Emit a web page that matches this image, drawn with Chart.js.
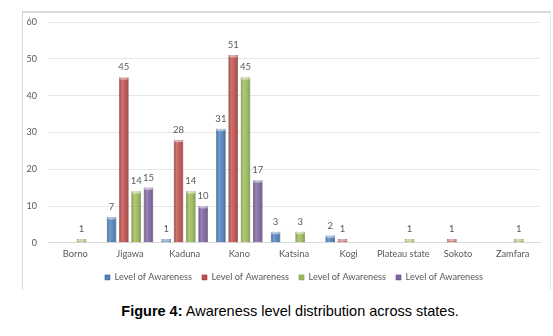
<!DOCTYPE html>
<html>
<head>
<meta charset="utf-8">
<script src="https://cdn.jsdelivr.net/npm/chart.js@4"></script>
<style>
  html, body { margin: 0; padding: 0; background: #fff; width: 553px; height: 336px; overflow: hidden; }
  #frame { position: absolute; left: 22px; top: 11px; width: 529px; height: 279px; border-left: 1px solid #d9d9d9; border-top: 2px solid #d9d9d9; border-right: 1px solid #e4e4e4; box-sizing: border-box; }
  #wrap { position: absolute; left: 0; top: 0; width: 553px; height: 292px; }
  #caption { position: absolute; left: 0; width: 580px; top: 303px; text-align: center; font-family: "Liberation Sans", Arial, sans-serif; font-size: 14.5px; color: #000; }
</style>
</head>
<body>
<div id="frame"></div>
<div id="wrap"><canvas id="c" width="553" height="292"></canvas></div>
<div id="caption"><b>Figure 4:</b> Awareness level distribution across states.</div>
<script>
const categories = ["Borno", "Jigawa", "Kaduna", "Kano", "Katsina", "Kogi", "Plateau state", "Sokoto", "Zamfara"];
const series1 = [0, 7, 1, 31, 3, 2, 0, 0, 0];
const series2 = [0, 45, 28, 51, 0, 1, 0, 1, 0];
const series3 = [1, 14, 14, 45, 3, 0, 1, 0, 1];
const series4 = [0, 15, 10, 17, 0, 0, 0, 0, 0];
const seriesNames = ["Level of Awareness", "Level of Awareness", "Level of Awareness", "Level of Awareness"];
const yTicks = [0, 10, 20, 30, 40, 50, 60];

const colors = ["#4F81BD", "#C0504D", "#9BBB59", "#8064A2"];
const borders = ["#3b679c", "#9c3b38", "#7a9a3e", "#644b85"];
const FONT = "Lato, 'Liberation Sans', sans-serif";

const shadePlugin = {
  id: 'shade',
  afterDatasetDraw(chart, args) {
    const ctx = chart.ctx;
    const meta = args.meta;
    meta.data.forEach(el => {
      const h = el.base - el.y;
      if (h < 0.5) return;
      const x0 = el.x - el.width / 2;
      const g = ctx.createLinearGradient(x0, 0, x0 + el.width, 0);
      g.addColorStop(0, 'rgba(0,0,0,0.18)');
      g.addColorStop(0.3, 'rgba(255,255,255,0.22)');
      g.addColorStop(0.55, 'rgba(255,255,255,0.08)');
      g.addColorStop(1, 'rgba(0,0,0,0.22)');
      ctx.save();
      ctx.fillStyle = g;
      ctx.fillRect(x0, el.y, el.width, h);
      ctx.beginPath();
      ctx.ellipse(el.x, el.y + 1.2, el.width / 2, Math.min(1.4, h / 2), 0, 0, Math.PI * 2);
      ctx.fillStyle = 'rgba(255,255,255,0.45)';
      ctx.fill();
      ctx.restore();
    });
  }
};

const labelPlugin = {
  id: 'vlabels',
  afterDatasetsDraw(chart) {
    const ctx = chart.ctx;
    ctx.save();
    ctx.font = "9.5px " + FONT;
    ctx.fillStyle = "#595959";
    ctx.textAlign = "center";
    ctx.textBaseline = "middle";
    chart.data.datasets.forEach((ds, di) => {
      const meta = chart.getDatasetMeta(di);
      meta.data.forEach((el, i) => {
        const v = ds.data[i];
        if (!v) return;
        ctx.fillText(String(v), el.x, el.y - 10);
      });
    });
    ctx.restore();
  }
};

const allSeries = [series1, series2, series3, series4];

new Chart(document.getElementById('c'), {
  type: 'bar',
  data: {
    labels: categories,
    datasets: allSeries.map((d, i) => ({
      label: seriesNames[i],
      data: d,
      backgroundColor: colors[i],
      borderColor: borders[i],
      borderWidth: 0.6,
      barPercentage: 0.77,
      categoryPercentage: 0.9
    }))
  },
  options: {
    responsive: false,
    animation: false,
    devicePixelRatio: 1,
    layout: { padding: { left: 0, right: 13, top: 22, bottom: 0 } },
    plugins: {
      tooltip: { enabled: false },
      legend: {
        position: 'bottom',
        fullSize: false,
        labels: {
          boxWidth: 5, boxHeight: 5, padding: 10,
          color: '#595959',
          font: { family: FONT, size: 9.2 }
        }
      }
    },
    scales: {
      x: {
        grid: { display: false, drawTicks: false, tickLength: 0 },
        border: { display: true, color: '#d9d9d9' },
        ticks: { color: '#595959', font: { family: FONT, size: 9.3 }, padding: 6, maxRotation: 0, autoSkip: false },
        afterFit(s) { s.height = 20; }
      },
      y: {
        min: 0, max: 60,
        afterBuildTicks(s) { s.ticks = yTicks.map(v => ({ value: v })); },
        grid: { color: '#e6e6e6', drawTicks: false },
        border: { display: false },
        ticks: { color: '#595959', font: { family: FONT, size: 9 }, padding: 11 },
        afterFit(s) { s.width = 48; }
      }
    }
  },
  plugins: [shadePlugin, labelPlugin]
});
</script>
</body>
</html>
